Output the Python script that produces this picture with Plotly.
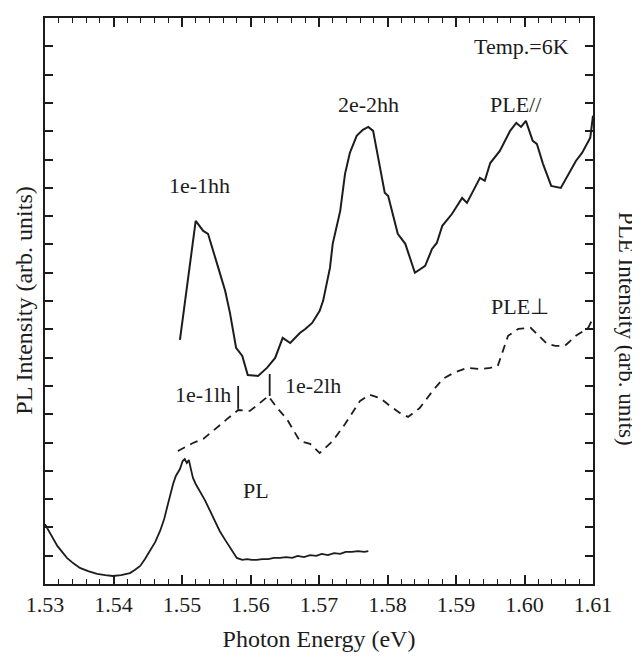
import plotly.graph_objects as go

# ---------------- data ----------------
ple_par_energy = [1.5497, 1.5520, 1.5531, 1.5538, 1.5553, 1.5563, 1.5570, 1.5579, 1.5588, 1.5596,
                  1.5611, 1.5624, 1.5636, 1.5647, 1.5658, 1.5672, 1.5680, 1.5690, 1.5701, 1.5706,
                  1.5716, 1.5720, 1.5731, 1.5738, 1.5745, 1.5755, 1.5764, 1.5772, 1.5779, 1.5789,
                  1.5796, 1.5801, 1.5815, 1.5826, 1.5840, 1.5855, 1.5865, 1.5872, 1.5880, 1.5894,
                  1.5909, 1.5916, 1.5935, 1.5942, 1.5950, 1.5964, 1.5979, 1.5988, 1.5995, 1.6002,
                  1.6012, 1.6018, 1.6027, 1.6039, 1.6053, 1.6075, 1.6084, 1.6096, 1.6100]
ple_par_intensity = [8.52, 12.67, 12.32, 12.22, 11.03, 10.23, 9.46, 8.24, 7.96, 7.29,
                     7.26, 7.54, 7.89, 8.59, 8.41, 8.76, 8.90, 9.11, 9.53, 9.88,
                     11.03, 11.87, 13.02, 14.31, 15.04, 15.64, 15.85, 15.95, 15.81, 14.52,
                     13.65, 13.54, 12.22, 11.87, 10.86, 11.10, 11.69, 11.90, 12.50, 12.91,
                     13.47, 13.30, 14.17, 14.07, 14.69, 15.11, 15.81, 16.09, 15.95, 16.16,
                     15.46, 15.36, 14.66, 13.89, 13.82, 14.76, 15.04, 15.57, 16.34]

ple_perp_energy = [1.5494, 1.5516, 1.5531, 1.5548, 1.5566, 1.5582, 1.5599, 1.5614, 1.5626, 1.5639,
                   1.5653, 1.5672, 1.5687, 1.5701, 1.5720, 1.5738, 1.5748, 1.5760, 1.5774, 1.5789,
                   1.5804, 1.5818, 1.5830, 1.5847, 1.5866, 1.5881, 1.5896, 1.5916, 1.5935, 1.5950,
                   1.5961, 1.5976, 1.5991, 1.6009, 1.6033, 1.6045, 1.6059, 1.6075, 1.6093, 1.6100]
ple_perp_intensity = [4.64, 4.92, 5.06, 5.41, 5.76, 6.07, 6.04, 6.32, 6.56, 6.14,
                      5.76, 4.99, 4.89, 4.57, 4.99, 5.58, 5.93, 6.39, 6.60, 6.49,
                      6.21, 5.97, 5.83, 6.14, 6.74, 7.16, 7.36, 7.54, 7.50, 7.54,
                      7.61, 8.66, 8.90, 8.94, 8.38, 8.31, 8.31, 8.66, 8.94, 9.28]

pl_energy = [1.5300, 1.5304, 1.5307, 1.5313, 1.5318, 1.5325, 1.5332, 1.5341, 1.5351, 1.5363,
             1.5376, 1.5388, 1.5399, 1.5411, 1.5424, 1.5431, 1.5439, 1.5446, 1.5453, 1.5461,
             1.5468, 1.5474, 1.5478, 1.5482, 1.5487, 1.5491, 1.5497, 1.5501, 1.5504, 1.5507,
             1.5510, 1.5513, 1.5516, 1.5520, 1.5526, 1.5534, 1.5541, 1.5548, 1.5555, 1.5563,
             1.5570, 1.5576, 1.5580, 1.5588, 1.5595, 1.5602, 1.5609, 1.5617, 1.5626, 1.5634,
             1.5643, 1.5652, 1.5661, 1.5669, 1.5678, 1.5687, 1.5696, 1.5704, 1.5713, 1.5722,
             1.5731, 1.5739, 1.5748, 1.5757, 1.5766, 1.5772]
pl_intensity = [2.09, 1.92, 1.75, 1.50, 1.33, 1.12, 0.91, 0.73, 0.56, 0.45,
                0.35, 0.31, 0.28, 0.31, 0.38, 0.49, 0.63, 0.87, 1.15, 1.47,
                1.85, 2.27, 2.65, 3.07, 3.49, 3.77, 4.01, 4.29, 4.36, 4.22,
                4.33, 4.01, 3.70, 3.49, 3.25, 2.90, 2.55, 2.20, 1.85, 1.54,
                1.26, 1.05, 0.91, 0.84, 0.87, 0.84, 0.84, 0.87, 0.87, 0.91,
                0.91, 0.94, 0.91, 0.98, 0.94, 1.01, 0.98, 1.05, 1.01, 1.08,
                1.05, 1.12, 1.12, 1.15, 1.12, 1.15]

# light-hole transition markers
lh_energy = [1.5582, 1.5628]
lh_top = [6.91, 7.33]
lh_bottom = [6.11, 6.56]

x_ticks = [1.53, 1.54, 1.55, 1.56, 1.57, 1.58, 1.59, 1.60, 1.61]
x_tick_labels = ["1.53", "1.54", "1.55", "1.56", "1.57", "1.58", "1.59", "1.60", "1.61"]

Y_TOP = 19.75
N_YTICKS = 20

# ---------------- figure ----------------
INK = "#1c1c1c"
FONT = "Liberation Serif"

fig = go.Figure()
fig.add_trace(go.Scatter(x=pl_energy, y=pl_intensity, mode="lines",
                         line=dict(color=INK, width=1.8), showlegend=False))
fig.add_trace(go.Scatter(x=ple_par_energy, y=ple_par_intensity, mode="lines",
                         line=dict(color=INK, width=2), showlegend=False))
fig.add_trace(go.Scatter(x=ple_perp_energy, y=ple_perp_intensity, mode="lines",
                         line=dict(color=INK, width=1.8, dash="8px,6px"), showlegend=False))
for e, t, b in zip(lh_energy, lh_top, lh_bottom):
    fig.add_trace(go.Scatter(x=[e, e], y=[t, b], mode="lines",
                             line=dict(color=INK, width=1.8), showlegend=False))

ann_font = dict(family=FONT, size=22, color=INK)
annotations = [
    dict(x=1.5996, y=18.74, text="Temp.=6K"),
    dict(x=1.5772, y=16.72, text="2e-2hh"),
    dict(x=1.5988, y=16.72, text="PLE//"),
    dict(x=1.5526, y=13.89, text="1e-1hh"),
    dict(x=1.5993, y=9.70, text="PLE\u22a5"),
    dict(x=1.5574, y=6.63, text="1e-1lh", xanchor="right"),
    dict(x=1.5647, y=6.91, text="1e-2lh", xanchor="left"),
    dict(x=1.5608, y=3.25, text="PL"),
]
for a in annotations:
    a.update(xref="x", yref="y", showarrow=False, font=ann_font)
annotations.append(dict(xref="paper", yref="paper", x=-0.039, y=0.50, xanchor="center", yanchor="middle",
                        text="PL Intensity (arb. units)", textangle=-90, showarrow=False,
                        font=dict(family=FONT, size=24, color=INK)))
annotations.append(dict(xref="paper", yref="paper", x=1.061, y=0.45, xanchor="center", yanchor="middle",
                        text="PLE Intensity (arb. units)", textangle=90, showarrow=False,
                        font=dict(family=FONT, size=23, color=INK)))

fig.update_layout(
    width=640, height=662,
    margin=dict(l=37, r=55, t=8, b=86),
    paper_bgcolor="white", plot_bgcolor="white",
    font=dict(family=FONT, color=INK),
    annotations=annotations,
    xaxis=dict(
        range=[1.53, 1.61], tickmode="array", tickvals=x_ticks, ticktext=x_tick_labels,
        ticks="inside", ticklen=9, tickwidth=1.6, tickcolor=INK,
        minor=dict(tick0=1.53, dtick=0.002, ticks="inside", ticklen=5, tickwidth=1.3, tickcolor=INK),
        showline=True, linewidth=2, linecolor=INK, mirror="ticks",
        showgrid=False, zeroline=False,
        tickfont=dict(family=FONT, size=22, color=INK),
        title=dict(text="Photon Energy (eV)", font=dict(family=FONT, size=24, color=INK), standoff=14),
    ),
    yaxis=dict(
        range=[0, Y_TOP], tick0=0, dtick=Y_TOP / N_YTICKS, ticks="inside", ticklen=8, tickwidth=1.6,
        tickcolor=INK, showticklabels=False, showline=True, linewidth=2, linecolor=INK, mirror="ticks",
        showgrid=False, zeroline=False,
    ),
)

fig.write_html("out.html")
